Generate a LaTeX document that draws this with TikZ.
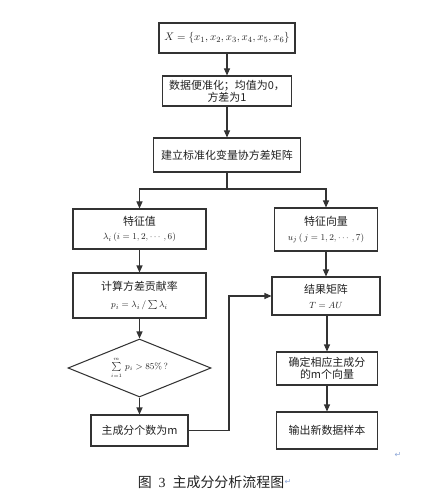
\documentclass[tikz,border=0pt]{standalone}
\usepackage{fontspec}
\usepackage{amsmath}
\newfontfamily\cjk{Noto Sans CJK SC}
\newfontfamily\symf{DejaVu Sans}
\newfontfamily\serf{Liberation Serif}
\usetikzlibrary{arrows.meta,shapes.geometric}
\definecolor{linec}{HTML}{333333}
\definecolor{textc}{HTML}{222222}
\definecolor{markc}{HTML}{8FA8D8}
\tikzset{
  box/.style={draw=linec, line width=1.05pt, rectangle, inner sep=0pt, align=center,
    text=textc, font=\cjk\fontsize{11}{14}\selectfont},
  decide/.style={draw=linec, line width=1.05pt, diamond, aspect=2.5, inner sep=0pt,
    text=textc, font=\fontsize{9}{11}\selectfont},
  arr/.style={draw=linec, line width=1.05pt, -{Triangle[length=7bp,width=6bp]}},
  conn/.style={draw=linec, line width=1.05pt},
  retmark/.style={text=markc, font=\symf\fontsize{8}{9}\selectfont, inner sep=0pt}
}
\begin{document}
\begin{tikzpicture}[x=1bp,y=-1bp]
\useasboundingbox[fill=white] (0,0) rectangle (426,504);
% top column
\node[box, minimum width=136bp, minimum height=30bp] (b1) at (227,38)
  {$X=\{x_1,x_2,x_3,x_4,x_5,x_6\}$};
\node[box, minimum width=129bp, minimum height=30bp] (b2) at (227,91)
  {数据便准化；均值为0，\\[-2pt]方差为1};
\node[box, minimum width=147bp, minimum height=34bp] (b3) at (227,155)
  {建立标准化变量协方差矩阵};
% left column
\node[box, minimum width=133bp, minimum height=40bp] (l1) at (139.5,229)
  {特征值\\[1pt]{\fontsize{9.5}{11}\selectfont$\lambda_i\,(i=1,2,\cdots,6)$}};
\node[box, minimum width=133bp, minimum height=45bp] (l2) at (139.5,295.5)
  {计算方差贡献率\\[3pt]{\fontsize{9.5}{11}\selectfont$p_i=\lambda_i\,/\sum\lambda_i$}};
\node[decide, minimum width=143bp, minimum height=58bp] (d1) at (139.5,368)
  {$\sum\limits_{\scriptscriptstyle i=1}^{\scriptscriptstyle m}\, p_i>85\%\,?$};
\node[box, minimum width=97bp, minimum height=31bp] (l3) at (139.5,430.5)
  {主成分个数为m};
% right column
\node[box, minimum width=103bp, minimum height=43bp] (r1) at (326,229.5)
  {特征向量\\[1pt]{\fontsize{9.5}{11}\selectfont$u_j\,(\,j=1,2,\cdots,7)$}};
\node[box, minimum width=108bp, minimum height=38bp] (r2) at (326,296)
  {结果矩阵\\[1pt]{\fontsize{9.5}{11}\selectfont$T=AU$}};
\node[box, minimum width=101bp, minimum height=33bp] (r3) at (327,368.5)
  {确定相应主成分\\[-2pt]的m个向量};
\node[box, minimum width=101bp, minimum height=37bp] (r4) at (327,430.5)
  {输出新数据样本};
% connectors
\draw[arr] (b1) -- (b2);
\draw[arr] (b2) -- (b3);
\coordinate (sp) at (227,189);
\draw[conn] (b3.south) -- (sp);
\draw[arr] (sp) -| (l1.north);
\draw[arr] (sp) -| (r1.north);
\draw[arr] (l1) -- (l2);
\draw[arr] (l2) -- (d1);
\draw[arr] (d1) -- (l3);
\draw[arr] (r1) -- (r2);
\draw[arr] (r2.south -| r3.north) -- (r3.north);
\draw[arr] (r3) -- (r4);
\coordinate (lk) at (229,296);
\draw[arr] (l3.east) -| (lk) -- (r2.west);
% caption and paragraph marks
\node[text=textc, font=\cjk\fontsize{14}{16}\selectfont, inner sep=0pt] (cap) at (211,482)
  {图\enspace{\serf 3}\enspace 主成分分析流程图};
\node[retmark, anchor=west] (m1) at (cap.east) {↵};
\node[retmark] (m2) at (398,455) {↵};
\end{tikzpicture}
\end{document}
